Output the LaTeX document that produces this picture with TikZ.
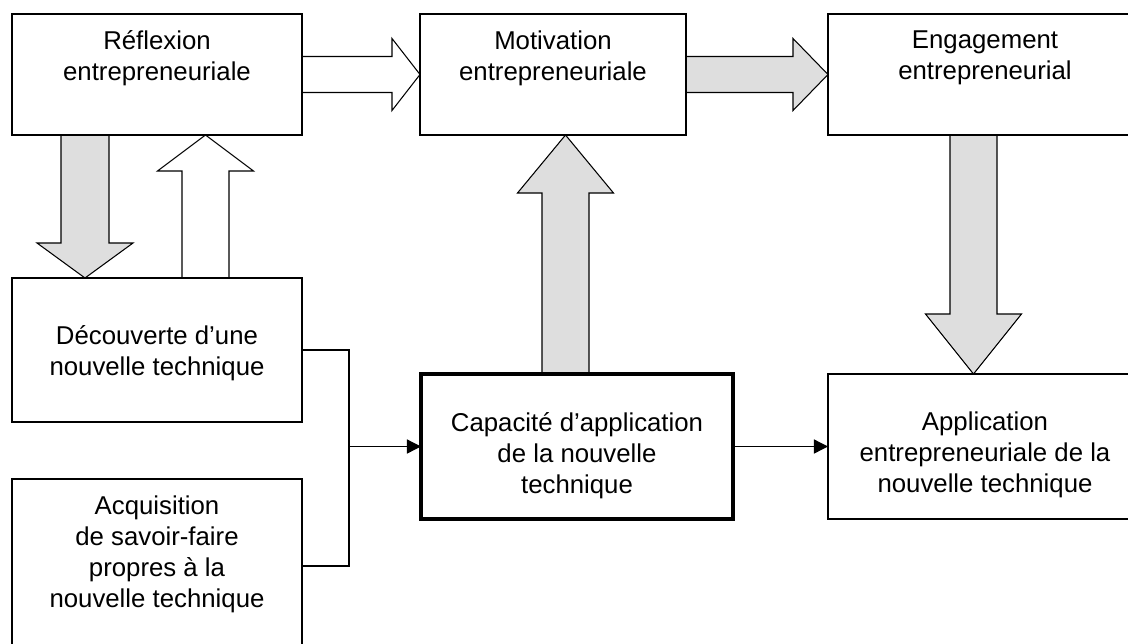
\documentclass[tikz,border=0pt]{standalone}
\usepackage{fontspec}
\setmainfont{Liberation Sans}
\usetikzlibrary{calc,positioning,arrows.meta}
\pgfdeclarelayer{fond}
\pgfsetlayers{fond,main}

\begin{document}
\begin{tikzpicture}[x=0.03cm, y=-0.03cm, >={Triangle[length=12pt,width=12pt]},
		bloc/.style={draw, line width=2.3pt, anchor=north west, outer sep=0pt, inner sep=0pt, minimum height=3.63cm},
		texte/.style={align=center, inner sep=0pt, font=\fontsize{22}{26.5}\selectfont},
		grosse/.style={draw, line width=0.9pt, fill=black!13},
		creuse/.style={draw, line width=0.9pt, fill=white},
		lien/.style={line width=1.1pt}]
				\useasboundingbox (0,0) rectangle (1128,643);
				\clip (0,0) rectangle (1128,643);
				
				% les cadres
				\node[bloc, minimum width=8.7cm] (refl) at (12,14) {};
				\node[bloc, minimum width=7.98cm] (motiv) at (420,14) {};
				\node[bloc, minimum width=9.42cm] (engag) at (828,14) {};
				\node[bloc, minimum width=8.7cm, minimum height=4.32cm] (decouv) at (12,278) {};
				\node[bloc, minimum width=8.7cm, minimum height=5.22cm] (acquis) at (12,479) {};
				\node[bloc, line width=2.8pt, minimum width=9.36cm, minimum height=4.35cm] (capac) at (421,374) {};
				\node[bloc, minimum width=9.42cm, minimum height=4.35cm] (appli) at (828,374) {};
				
				\node[texte] (t-refl) at ($(refl.north)+(0,44)$) {Réflexion\\entrepreneuriale};
				\node[texte] (t-motiv) at ($(motiv.north)+(0,44)$) {Motivation\\entrepreneuriale};
				\node[texte] (t-engag) at ($(engag.north)+(0,44)$) {Engagement\\entrepreneurial};
				\node[texte] (t-decouv) at ($(decouv.north)+(0,75)$) {Découverte d’une\\nouvelle technique};
				\node[texte] (t-acquis) at ($(acquis.north)+(0,75)$) {Acquisition\\de savoir-faire\\propres à la\\nouvelle technique};
				\node[texte] (t-capac) at ($(capac.north)+(0,82)$) {Capacité d’application\\de la nouvelle\\technique};
				\node[texte] (t-appli) at ($(appli.north)+(0,81)$) {Application\\entrepreneuriale de la\\nouvelle technique};
				
				\path 
				($(refl.south west)+(73,0)$) coordinate (d1)
				($(decouv.north west)+(193.5,0)$) coordinate (u1)
				($(capac.north west)+(144.5,0)$) coordinate (c1)
				($(engag.south west)+(145.5,0)$) coordinate (e1)
				;
				\path 
				(d1 |- decouv.north) coordinate (d2)
				(u1 |- refl.south) coordinate (u2)
				(c1 |- motiv.south) coordinate (c2)
				(e1 |- appli.north) coordinate (e2)
				;
				
				% les grosses fleches
				\begin{pgfonlayer}{fond}
				\draw[creuse] ($(refl.east)+(0,-18)$) -- ($(motiv.west)+(-28,-18)$) -- ($(motiv.west)+(-28,-36)$) -- (motiv.west) -- ($(motiv.west)+(-28,36)$) -- ($(motiv.west)+(-28,18)$) -- ($(refl.east)+(0,18)$);
				\draw[grosse] ($(motiv.east)+(0,-18)$) -- ($(engag.west)+(-35,-18)$) -- ($(engag.west)+(-35,-36)$) -- (engag.west) -- ($(engag.west)+(-35,36)$) -- ($(engag.west)+(-35,18)$) -- ($(motiv.east)+(0,18)$);
				
				\draw[grosse] ($(d1)+(-24,0)$) -- ($(d2)+(-24,-35)$) -- ($(d2)+(-48,-35)$) -- (d2) -- ($(d2)+(48,-35)$) -- ($(d2)+(24,-35)$) -- ($(d1)+(24,0)$);
				\draw[creuse] ($(u1)+(-23.5,0)$) -- ($(u2)+(-23.5,36)$) -- ($(u2)+(-48,36)$) -- (u2) -- ($(u2)+(48,36)$) -- ($(u2)+(23.5,36)$) -- ($(u1)+(23.5,0)$);
				\draw[grosse] ($(c1)+(-23.5,0)$) -- ($(c2)+(-23.5,58)$) -- ($(c2)+(-48,58)$) -- (c2) -- ($(c2)+(48,58)$) -- ($(c2)+(23.5,58)$) -- ($(c1)+(23.5,0)$);
				\draw[grosse] ($(e1)+(-23.5,0)$) -- ($(e2)+(-23.5,-60)$) -- ($(e2)+(-48,-60)$) -- (e2) -- ($(e2)+(48,-60)$) -- ($(e2)+(23.5,-60)$) -- ($(e1)+(23.5,0)$);
				\end{pgfonlayer}
				
				% les liens
				\draw[lien] (decouv.east) -- ++(47,0) coordinate (jonc) |- (acquis.east);
				\draw[lien, ->] (jonc |- capac.west) -- (capac.west);
				\draw[lien, ->] (capac.east) -- (appli.west);
				
\end{tikzpicture}
\end{document}
